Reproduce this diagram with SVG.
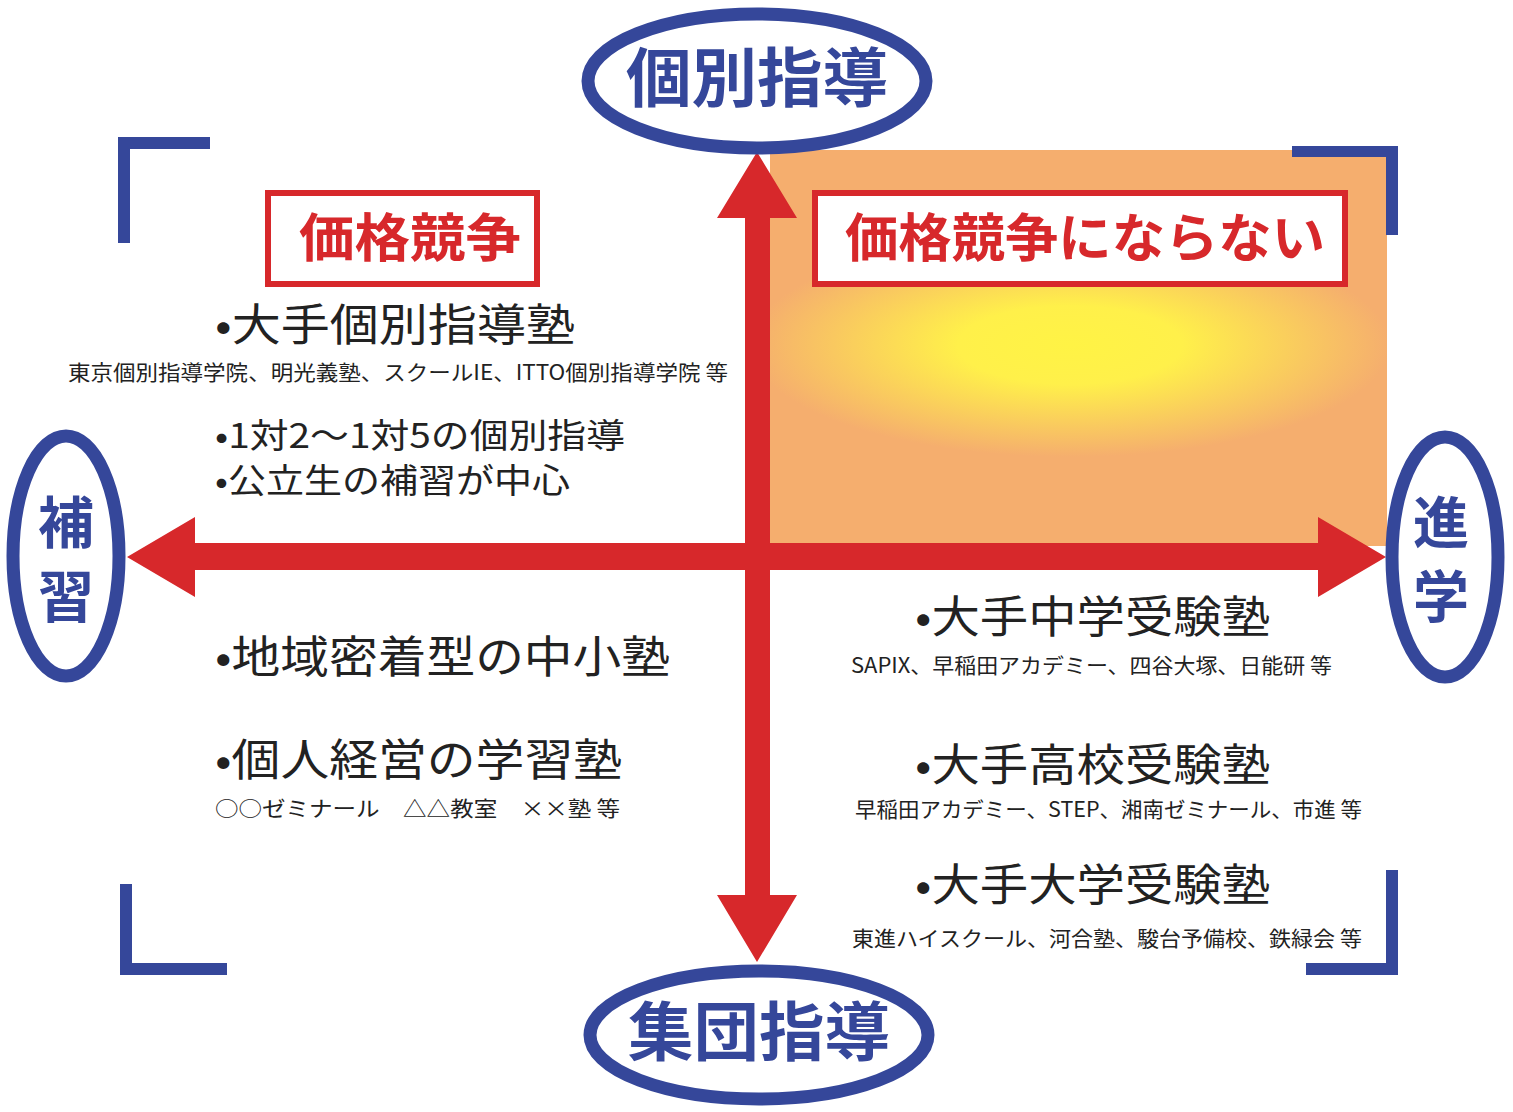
<svg xmlns="http://www.w3.org/2000/svg" width="1513" height="1112" viewBox="0 0 1513 1112">
<style>
.jp{font-family:"Noto Sans CJK JP","Noto Sans",sans-serif;fill:#222}
.big{font-size:44px}
.mid{font-size:34px}
.sm{font-size:21px}
.blue{font-family:"Noto Sans CJK JP",sans-serif;fill:#35479A;font-weight:bold}
.red{font-family:"Noto Sans CJK JP",sans-serif;fill:#D7282B;font-weight:bold;font-size:52px}
.ell{fill:#fff;stroke:#35479A;stroke-width:13}
.brk{fill:#35479A}
.arrow{fill:#D7282B}
.box{fill:#fff;stroke:#D7282B;stroke-width:6}
</style>
<defs>
<radialGradient id="glow" cx="1070" cy="345" r="320" gradientUnits="userSpaceOnUse" gradientTransform="translate(1070 345) scale(1 0.35) translate(-1070 -345)">
<stop offset="0" stop-color="#FFF345"/>
<stop offset="0.35" stop-color="#FFF04A"/>
<stop offset="1" stop-color="#F5AE6E"/>
</radialGradient>
</defs>
<rect width="1513" height="1112" fill="#fff"/>
<g id="highlight">
<rect x="770" y="150" width="617" height="396" fill="#F5AE6E"/>
<rect x="770" y="150" width="617" height="396" fill="url(#glow)"/>
</g>
<g id="brackets">
<rect class="brk" x="118" y="137" width="92" height="12"/>
<rect class="brk" x="118" y="137" width="12" height="106"/>
<rect class="brk" x="120" y="884" width="12" height="91"/>
<rect class="brk" x="120" y="963" width="107" height="12"/>
<rect class="brk" x="1292" y="146" width="106" height="11"/>
<rect class="brk" x="1386" y="146" width="12" height="89"/>
<rect class="brk" x="1386" y="870" width="12" height="105"/>
<rect class="brk" x="1306" y="963" width="92" height="12"/>
</g>
<g id="connectors">
<polygon class="arrow" points="127,557 195,517 195,543 1318,543 1318,517 1386,557 1318,597 1318,570 195,570 195,597"/>
<polygon class="arrow" points="757,152 797,218 770,218 770,895 797,895 757,962 717,895 745,895 745,218 717,218"/>
</g>
<g id="node-top">
<ellipse class="ell" cx="757" cy="81" rx="169" ry="67"/>
<text class="blue" x="757" y="101" font-size="64" text-anchor="middle" textLength="262" lengthAdjust="spacingAndGlyphs">個別指導</text>
</g>
<g id="node-bottom">
<ellipse class="ell" cx="759" cy="1035" rx="169" ry="64"/>
<text class="blue" x="759" y="1055" font-size="64" text-anchor="middle" textLength="262" lengthAdjust="spacingAndGlyphs">集団指導</text>
</g>
<g id="node-left">
<ellipse class="ell" cx="66" cy="556" rx="53" ry="120"/>
<text class="blue" x="66" y="543" font-size="56" text-anchor="middle">補</text>
<text class="blue" x="66" y="617" font-size="56" text-anchor="middle">習</text>
</g>
<g id="node-right">
<ellipse class="ell" cx="1445" cy="557" rx="53" ry="120"/>
<text class="blue" x="1441" y="543" font-size="56" text-anchor="middle">進</text>
<text class="blue" x="1441" y="617" font-size="56" text-anchor="middle">学</text>
</g>
<g id="label-price">
<rect class="box" x="268" y="193" width="269" height="91"/>
<text class="red" x="410" y="257" text-anchor="middle" textLength="222" lengthAdjust="spacingAndGlyphs">価格競争</text>
</g>
<g id="label-noprice">
<rect class="box" x="815" y="193" width="530" height="91"/>
<text class="red" x="1085" y="257" text-anchor="middle" textLength="480" lengthAdjust="spacingAndGlyphs">価格競争にならない</text>
</g>
<g id="quadrant-top-left">
<text class="jp big" x="215" y="341" textLength="360" lengthAdjust="spacingAndGlyphs">•大手個別指導塾</text>
<text class="jp sm" x="68" y="380" textLength="660" lengthAdjust="spacingAndGlyphs">東京個別指導学院、明光義塾、スクールIE、ITTO個別指導学院 等</text>
<text class="jp mid" x="215" y="448" textLength="410" lengthAdjust="spacingAndGlyphs">•1対2〜1対5の個別指導</text>
<text class="jp mid" x="215" y="493" textLength="355" lengthAdjust="spacingAndGlyphs">•公立生の補習が中心</text>
</g>
<g id="quadrant-bottom-left">
<text class="jp big" x="215" y="673" textLength="455" lengthAdjust="spacingAndGlyphs">•地域密着型の中小塾</text>
<text class="jp big" x="215" y="776" textLength="407" lengthAdjust="spacingAndGlyphs">•個人経営の学習塾</text>
<text class="jp sm" x="215" y="816" textLength="405" lengthAdjust="spacingAndGlyphs">○○ゼミナール　△△教室　××塾 等</text>
</g>
<g id="quadrant-bottom-right">
<text class="jp big" x="915" y="633" textLength="355" lengthAdjust="spacingAndGlyphs">•大手中学受験塾</text>
<text class="jp sm" x="851" y="673" textLength="481" lengthAdjust="spacingAndGlyphs">SAPIX、早稲田アカデミー、四谷大塚、日能研 等</text>
<text class="jp big" x="915" y="781" textLength="355" lengthAdjust="spacingAndGlyphs">•大手高校受験塾</text>
<text class="jp sm" x="855" y="817" textLength="507" lengthAdjust="spacingAndGlyphs">早稲田アカデミー、STEP、湘南ゼミナール、市進 等</text>
<text class="jp big" x="915" y="901" textLength="355" lengthAdjust="spacingAndGlyphs">•大手大学受験塾</text>
<text class="jp sm" x="852" y="946" textLength="510" lengthAdjust="spacingAndGlyphs">東進ハイスクール、河合塾、駿台予備校、鉄緑会 等</text>
</g>
</svg>
